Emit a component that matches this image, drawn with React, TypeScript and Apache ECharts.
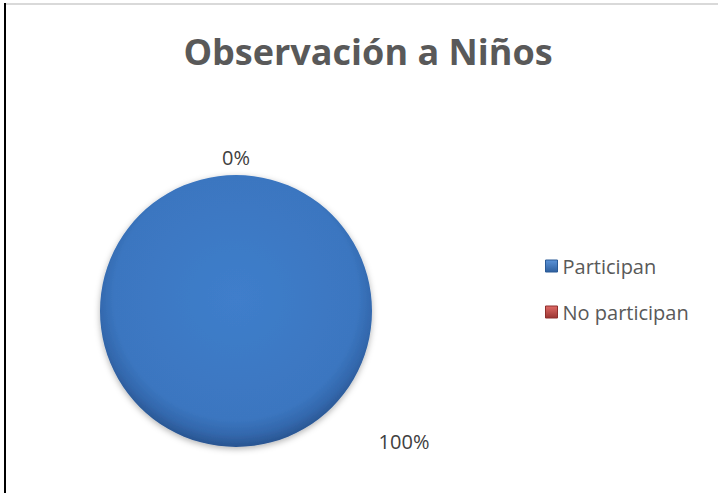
import React, { useEffect, useRef } from "react";
import * as echarts from "echarts";

const title = "Observación a Niños";
const categories = ["Participan", "No participan"];
const values = [100, 0];
const colors = ["#3f7bc6", "#c0504d"];

export default function App() {
  const ref = useRef<HTMLDivElement>(null);
  useEffect(() => {
    document.body.style.margin = "0";
    const chart = echarts.init(ref.current!, null, { renderer: "svg" });
    const data = categories.map((name, i) => ({
      name,
      value: values[i],
      itemStyle: {
        color: i === 0
          ? {
              type: "radial", x: 0.5, y: 0.45, r: 0.56,
              colorStops: [
                { offset: 0, color: "#3f7ecb" },
                { offset: 0.8, color: "#3b76c0" },
                { offset: 0.9, color: "#3368ad" },
                { offset: 1, color: "#27508a" },
              ],
            }
          : colors[1],
      },
    }));
    chart.setOption({
      animation: false,
      color: colors,
      title: {
        text: title,
        left: 363,
        textAlign: "center",
        top: 28,
        textStyle: { fontFamily: "Open Sans", fontWeight: "bold", fontSize: 36, color: "#595959" },
      },
      legend: {
        orient: "vertical",
        left: 545,
        top: 256,
        padding: 0,
        itemGap: 26,
        itemWidth: 12,
        itemHeight: 12,
        icon: "rect",
        data: categories.map((n, i) => ({
          name: n,
          itemStyle: {
            color: {
              type: "linear", x: 0, y: 0, x2: 0, y2: 1,
              colorStops: i === 0
                ? [{ offset: 0, color: "#5b93d8" }, { offset: 1, color: "#2f609f" }]
                : [{ offset: 0, color: "#e06a66" }, { offset: 1, color: "#9a3532" }],
            },
            borderColor: i === 0 ? "#2a5a96" : "#8e2f2c",
            borderWidth: 1,
          },
        })),
        textStyle: { fontFamily: "Open Sans", fontSize: 20, color: "#595959", padding: [0, 0, 0, 0] },
      },
      graphic: [
        { type: "rect", shape: { x: 4, y: 3, width: 2, height: 490 }, style: { fill: "#000" } },
        { type: "rect", shape: { x: 6, y: 3, width: 712, height: 2 }, style: { fill: "#d9d9d9" } },
      ],
      series: [
        {
          type: "pie",
          center: [236, 311],
          radius: 136,
          startAngle: 90,
          clockwise: true,
          minShowLabelAngle: 0,
          stillShowZeroSum: true,
          data,
          itemStyle: { shadowBlur: 6, shadowColor: "rgba(0,0,0,0.3)", shadowOffsetY: 2 },
          label: {
            show: true,
            position: "outside",
            formatter: "{d}%",
            fontFamily: "Open Sans",
            fontSize: 20,
            color: "#404040",
          },
          labelLine: { show: false },
          labelLayout: (p: any) => {
            if (p.dataIndex === 0) {
              return { x: 404, y: 441, align: "center", verticalAlign: "middle" };
            }
            return { x: 236, y: 157, align: "center", verticalAlign: "middle" };
          },
          emphasis: { disabled: true },
        },
      ],
    });
    return () => chart.dispose();
  }, []);
  return <div ref={ref} style={{ width: 718, height: 493 }} />;
}
